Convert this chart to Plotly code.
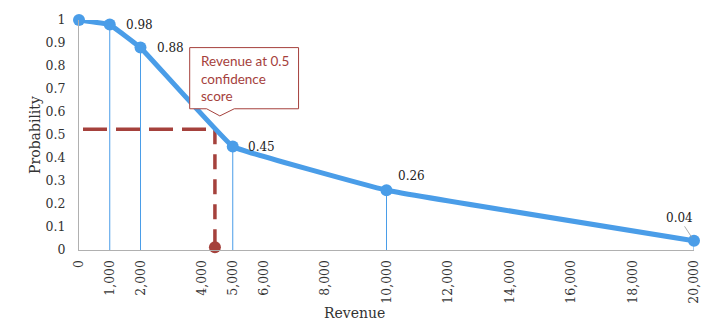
import plotly.graph_objects as go

revenue = [0, 1000, 2000, 5000, 10000, 20000]
probability = [1.0, 0.98, 0.88, 0.45, 0.26, 0.04]
label_text = ["", "0.98", "0.88", "0.45", "0.26", "0.04"]
x_ticks = [0, 1000, 2000, 4000, 5000, 6000, 8000, 10000, 12000, 14000, 16000, 18000, 20000]
y_ticks = [0, 0.1, 0.2, 0.3, 0.4, 0.5, 0.6, 0.7, 0.8, 0.9, 1.0]
threshold_prob = 0.525
threshold_revenue = 4420

BLUE = "#4a9de8"
RED = "#a5413c"
FONT = "DejaVu Serif"

fig = go.Figure()

# drop lines from points to axis
dx, dy = [], []
for x, y in zip(revenue[1:], probability[1:]):
    dx += [x, x, None]
    dy += [0, y, None]
fig.add_trace(go.Scatter(x=dx, y=dy, mode="lines", line=dict(color=BLUE, width=1),
                         hoverinfo="skip", showlegend=False))

# red dashed guide lines
fig.add_trace(go.Scatter(x=[130, threshold_revenue], y=[threshold_prob, threshold_prob], mode="lines",
                         line=dict(color=RED, width=3.5, dash="24px,9px"),
                         showlegend=False, cliponaxis=False))
fig.add_trace(go.Scatter(x=[threshold_revenue, threshold_revenue], y=[threshold_prob, 0.03], mode="lines",
                         line=dict(color=RED, width=3.5, dash="15px,10px"),
                         showlegend=False, cliponaxis=False))
fig.add_trace(go.Scatter(x=[threshold_revenue], y=[0.012], mode="markers",
                         marker=dict(color=RED, size=12, symbol="circle"),
                         showlegend=False, cliponaxis=False))

# main curve
fig.add_trace(go.Scatter(x=revenue, y=probability, mode="lines+markers",
                         line=dict(color=BLUE, width=5, shape="spline", smoothing=0.18),
                         marker=dict(color=BLUE, size=12),
                         showlegend=False, cliponaxis=False))

# data labels
offsets = {1: (14, 0), 2: (14, 0), 3: (13, 0), 4: (9, 14)}
for i, (xs, ys) in offsets.items():
    fig.add_annotation(x=revenue[i], y=probability[i], text=label_text[i], showarrow=False,
                       xanchor="left", xshift=xs, yshift=ys,
                       font=dict(family=FONT, size=12, color="#222"))
fig.add_annotation(x=revenue[5], y=probability[5], text=label_text[5], showarrow=True,
                   arrowhead=0, arrowwidth=0.8, arrowcolor="#999", ax=-15, ay=-23,
                   standoff=4, font=dict(family=FONT, size=12, color="#222"))

# callout box with notch
bx0, bx1, by0, by1 = 3600, 7140, 0.614, 0.88
nx0, ntip, nx1, ny = 4150, 4580, 5050, 0.583
path = (f"M {bx0},{by1} L {bx1},{by1} L {bx1},{by0} L {nx1},{by0} L {ntip},{ny} "
        f"L {nx0},{by0} L {bx0},{by0} Z")
fig.add_shape(type="path", path=path, xref="x", yref="y", fillcolor="white",
              line=dict(color=RED, width=1), layer="above")
fig.add_annotation(x=bx0, y=by1, xanchor="left", yanchor="top", align="left",
                   text="Revenue at 0.5<br>confidence<br>score", showarrow=False,
                   xshift=9, yshift=-3,
                   font=dict(family="Lato", size=13.5, color=RED))

# x-axis title
fig.add_annotation(x=0.448, y=0, xref="paper", yref="paper", yanchor="top", yshift=-53,
                   text="Revenue", showarrow=False, font=dict(family=FONT, size=14, color="#333"))

fig.update_layout(
    width=713, height=322,
    margin=dict(l=79, r=18, t=17, b=72),
    plot_bgcolor="white", paper_bgcolor="white",
    font=dict(family=FONT, size=13, color="#333"),
    xaxis=dict(range=[0, 20000], tickvals=x_ticks, tickformat=",d", tickangle=-90,
               showgrid=False, zeroline=False, showline=True, linecolor="#b0b0b0", linewidth=1,
               ticks="", ticklabelstandoff=4, tickfont=dict(family=FONT, size=12.5, color="#333")),
    yaxis=dict(range=[0, 1], tickvals=y_ticks, showgrid=False, zeroline=False,
               showline=True, linecolor="#b0b0b0", linewidth=1, ticks="", ticklabelstandoff=10,
               title=dict(text="Probability", font=dict(family=FONT, size=14, color="#333"), standoff=1),
               tickfont=dict(family=FONT, size=12.5, color="#333")),
)

fig.write_html("out.html")
